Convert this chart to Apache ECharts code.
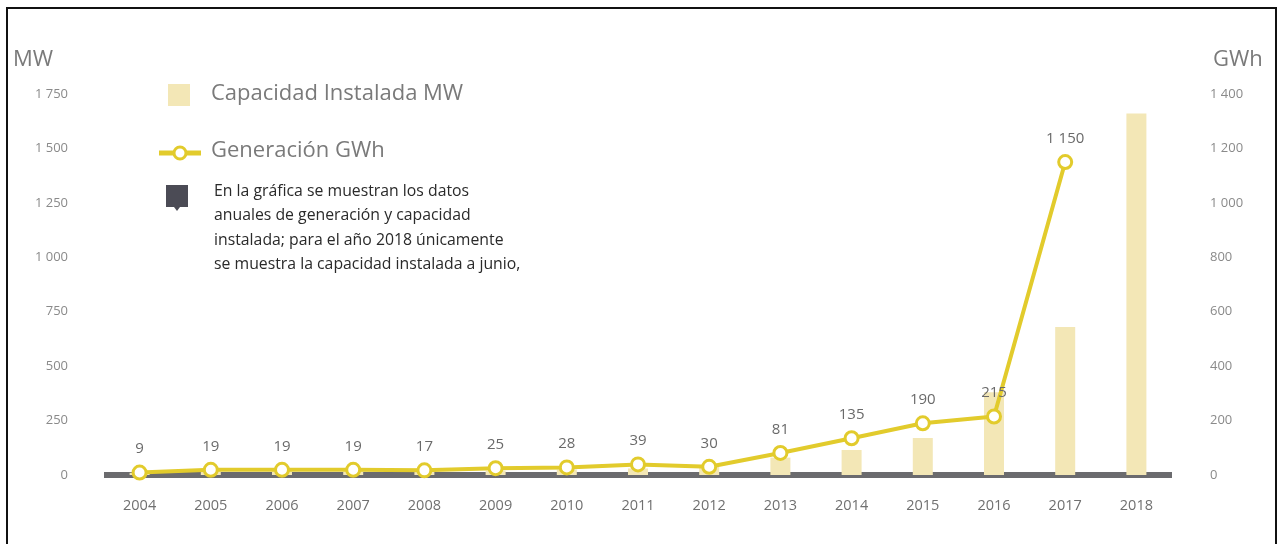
<!DOCTYPE html>
<html>
<head>
<meta charset="utf-8">
<script src="https://cdn.jsdelivr.net/npm/echarts@6/dist/echarts.min.js"></script>
<style>
  html, body { margin: 0; padding: 0; background: #fff; }
  #chart { width: 1280px; height: 544px; }
</style>
</head>
<body>
<div id="chart"></div>
<script>
// Years on the category axis
const years = ['2004','2005','2006','2007','2008','2009','2010','2011','2012','2013','2014','2015','2016','2017','2018'];
// Installed capacity, MW (left axis)
const capacidadMW = [10, 18, 18, 18, 18, 20, 25, 30, 40, 80, 115, 170, 380, 680, 1660];
// Annual generation, GWh (right axis); 2018 has no yearly figure
const generacionGWh = [9, 19, 19, 19, 17, 25, 28, 39, 30, 81, 135, 190, 215, 1150, null];
// Axis tick settings
const mwMax = 1750, mwStep = 250;
const gwhMax = 1400, gwhStep = 200;

const FONT = '"Open Sans", "Noto Sans", sans-serif';
const LINE_COLOR = '#e2cb2c';
const BAR_COLOR = '#f3e7b6';
const GREY = '#8a8a8a';

// space as thousands separator ("1 750")
const fmt = v => String(v).replace(/\B(?=(\d{3})+(?!\d))/g, ' ');

const chart = echarts.init(document.getElementById('chart'));
chart.setOption({
  animation: false,
  grid: { left: 104, right: 108, top: 94, bottom: 69 },
  xAxis: {
    type: 'category',
    data: years,
    axisTick: { show: false },
    axisLine: { lineStyle: { color: '#6b6b6e', width: 6, cap: 'butt' } },
    axisLabel: { color: '#707070', fontFamily: FONT, fontSize: 14.5, margin: 23 }
  },
  yAxis: [
    {
      type: 'value', min: 0, max: mwMax, interval: mwStep,
      splitLine: { show: false },
      axisLine: { show: false }, axisTick: { show: false },
      axisLabel: { color: GREY, fontFamily: FONT, fontSize: 13, margin: 36, formatter: fmt }
    },
    {
      type: 'value', min: 0, max: gwhMax, interval: gwhStep,
      splitLine: { show: false },
      axisLine: { show: false }, axisTick: { show: false },
      axisLabel: { color: GREY, fontFamily: FONT, fontSize: 13, margin: 38, formatter: fmt }
    }
  ],
  series: [
    {
      name: 'Capacidad Instalada MW',
      type: 'bar',
      yAxisIndex: 0,
      data: capacidadMW,
      barWidth: 20,
      itemStyle: { color: BAR_COLOR },
      z: 1
    },
    {
      name: 'Generación GWh',
      type: 'line',
      yAxisIndex: 1,
      data: generacionGWh,
      symbol: 'circle',
      symbolSize: 13,
      lineStyle: { color: LINE_COLOR, width: 4 },
      itemStyle: { color: '#ffffff', borderColor: LINE_COLOR, borderWidth: 3 },
      label: {
        show: true, position: 'top', distance: 8,
        color: '#6a6a6a', fontFamily: FONT, fontSize: 15,
        formatter: p => fmt(p.value)
      },
      z: 3
    }
  ],
  graphic: [
    // outer frame
    { type: 'rect', shape: { x: 7, y: 8, width: 1269, height: 560 },
      style: { fill: 'none', stroke: '#111', lineWidth: 2 }, silent: true },
    // axis units
    { type: 'text', left: 13, top: 49,
      style: { text: 'MW', fill: '#7a7a7a', font: '22px ' + FONT } },
    { type: 'text', left: 1213, top: 49,
      style: { text: 'GWh', fill: '#7a7a7a', font: '22px ' + FONT } },
    // legend: capacity
    { type: 'rect', shape: { x: 168, y: 84, width: 22, height: 22 },
      style: { fill: BAR_COLOR } },
    { type: 'text', left: 211, top: 83,
      style: { text: 'Capacidad Instalada MW', fill: '#7a7a7a', font: '22px ' + FONT } },
    // legend: generation
    { type: 'line', shape: { x1: 159, y1: 153, x2: 201, y2: 153 },
      style: { stroke: LINE_COLOR, lineWidth: 5 } },
    { type: 'circle', shape: { cx: 180, cy: 153, r: 6 },
      style: { fill: '#fff', stroke: LINE_COLOR, lineWidth: 3 } },
    { type: 'text', left: 211, top: 140,
      style: { text: 'Generación GWh', fill: '#7a7a7a', font: '22px ' + FONT } },
    // note icon and text
    { type: 'rect', shape: { x: 166, y: 185, width: 22, height: 22 },
      style: { fill: '#4b4b55' } },
    { type: 'polygon', shape: { points: [[174, 207], [180, 207], [177, 211]] },
      style: { fill: '#4b4b55' } },
    { type: 'text', left: 214, top: 179,
      style: {
        text: 'En la gráfica se muestran los datos\nanuales de generación y capacidad\ninstalada; para el año 2018 únicamente\nse muestra la capacidad instalada a junio,',
        fill: '#2a2a2a', font: '15.8px ' + FONT, lineHeight: 24.5
      } }
  ]
});
</script>
</body>
</html>
